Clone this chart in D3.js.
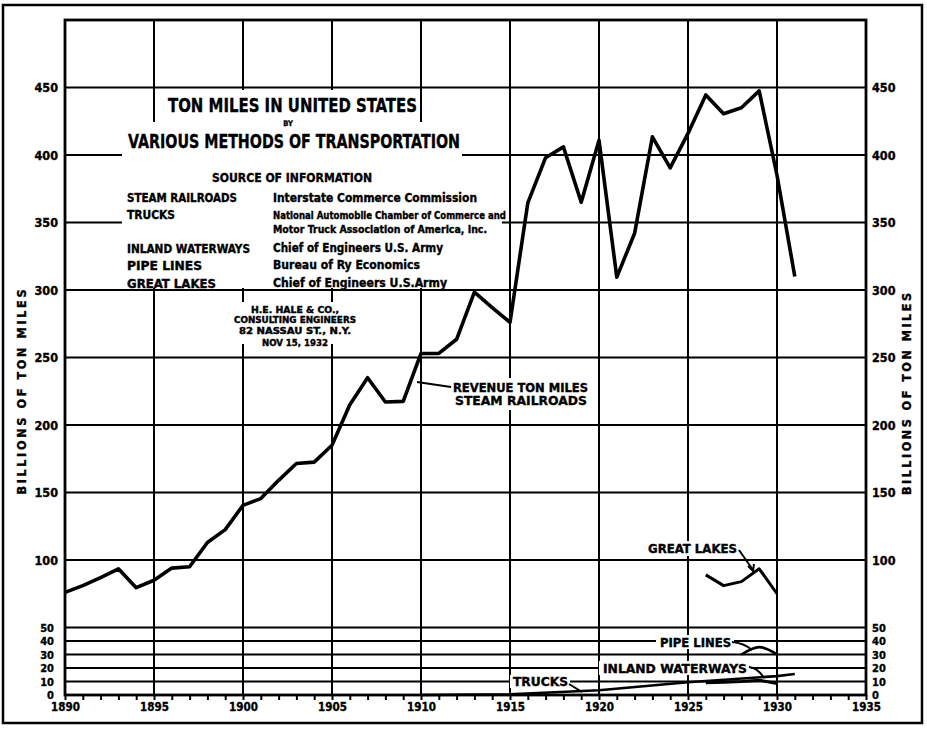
<!DOCTYPE html>
<html><head><meta charset="utf-8">
<script src="https://cdn.jsdelivr.net/npm/d3@7"></script>
<style>
body{margin:0;background:#fff;}
svg{display:block;}
text{font-family:"DejaVu Sans Condensed","Liberation Sans Narrow","DejaVu Sans",sans-serif;font-weight:bold;fill:#000;stroke:#000;stroke-width:0.35px;}
</style></head><body>
<svg id="c" width="927" height="730"></svg>
<script>
// ---------------- DATA ----------------
const railYears = [1890,1891,1892,1893,1894,1895,1896,1897,1898,1899,1900,1901,1902,1903,1904,1905,1906,1907,1908,1909,1910,1911,1912,1913,1914,1915,1916,1917,1918,1919,1920,1921,1922,1923,1924,1925,1926,1927,1928,1929,1930,1931];
const railValues = [76,81,87,93.5,79.5,85,94,95,113,122.5,140.5,145.5,159,171.5,172.5,185,215,235,217,217.5,253,253,263.5,298.5,287,276,364.5,398,406,365,411,309.5,342,413.5,390.5,416,444.5,430.5,435,447.5,385,310];
const lakesYears = [1926,1927,1928,1929,1930];
const lakesValues = [89,81,84,93.5,75];
const pipeYears = [1928,1929,1930];
const pipeValues = [30,35.5,30];
const waterYears = [1926,1927,1928,1929,1930];
const waterValues = [9,9.5,10,11,8.5];
const truckYears = [1910,1915,1920,1925,1930,1931];
const truckValues = [0,0.5,3.5,9.5,14,15.5];
const yTicksLow = [0,10,20,30,40,50];
const yTicksHigh = [100,150,200,250,300,350,400,450];
const xTickYears = [1890,1891,1892,1893,1894,1895,1896,1897,1898,1899,1900,1901,1902,1903,1904,1905,1906,1907,1908,1909,1910,1911,1912,1913,1914,1915,1916,1917,1918,1919,1920,1921,1922,1923,1924,1925,1926,1927,1928,1929,1930,1931,1932,1933,1934,1935];
const xLabelYears = [1890,1895,1900,1905,1910,1915,1920,1925,1930,1935];
const xGridYears = [1895,1900,1905,1910,1915,1920,1925,1930];

const titleLines = ["TON MILES IN UNITED STATES","BY","VARIOUS METHODS OF TRANSPORTATION"];
const sourceHead = "SOURCE OF INFORMATION";
const sourceNames = ["STEAM RAILROADS","TRUCKS","INLAND WATERWAYS","PIPE LINES","GREAT LAKES"];
const sourceOrgs = ["Interstate Commerce Commission","National Automobile Chamber of Commerce and","Motor Truck Association of America, Inc.","Chief of Engineers U.S. Army","Bureau of Ry Economics","Chief of Engineers U.S.Army"];
const stampLines = ["H.E. HALE & CO.,","CONSULTING ENGINEERS","82 NASSAU ST., N.Y.","NOV 15, 1932"];
const axisTitle = "BILLIONS OF TON MILES";

// ---------------- LAYOUT ----------------
const svg = d3.select("#c");
const X0=65, X1=866, Y0=695, Y1=20;
const x = d3.scaleLinear().domain([1890,1935]).range([X0,X1]);
const y = d3.scaleLinear().domain([0,500]).range([Y0,Y1]);

svg.append("rect").attr("width",927).attr("height",730).attr("fill","#fff");
// outer border
svg.append("rect").attr("x",3).attr("y",5).attr("width",919).attr("height",718)
  .attr("fill","none").attr("stroke","#000").attr("stroke-width",2.5);

const grid = svg.append("g").attr("stroke","#000").attr("stroke-width",2);
grid.selectAll(".hg").data(yTicksLow.concat(yTicksHigh)).join("line")
  .attr("x1",X0).attr("x2",X1).attr("y1",d=>y(d)).attr("y2",d=>y(d));
grid.selectAll(".vg").data(xGridYears).join("line")
  .attr("x1",d=>x(d)).attr("x2",d=>x(d)).attr("y1",Y1).attr("y2",Y0);

// white patches behind the title block and stamp
const wb = svg.append("g").attr("fill","#fff");
wb.append("rect").attr("x",160).attr("y",90).attr("width",258).attr("height",32);
wb.append("rect").attr("x",122).attr("y",122).attr("width",340).attr("height",45);
wb.append("rect").attr("x",122).attr("y",165).attr("width",380).attr("height",123);
wb.append("rect").attr("x",230).attr("y",302).attr("width",130).attr("height",42);

// frame
svg.append("rect").attr("x",X0).attr("y",Y1).attr("width",X1-X0).attr("height",Y0-Y1)
  .attr("fill","none").attr("stroke","#000").attr("stroke-width",2.8);

// x axis ticks and labels
const xAxis = d3.axisBottom(x).tickValues(xTickYears).tickSize(5).tickSizeOuter(0)
  .tickFormat(d=> xLabelYears.includes(d) ? String(d) : "");
const gx = svg.append("g").attr("transform",`translate(0,${Y0})`).call(xAxis);
gx.select(".domain").remove();
gx.selectAll("line").attr("stroke","#000").attr("stroke-width",2);
gx.selectAll("text").attr("y",8).attr("font-size",11.5).style("font-family",null);

// y axes
function yAxisPair(ticks, fs, leftX, rightX){
  const gl = svg.append("g").attr("transform",`translate(${leftX},0)`)
    .call(d3.axisLeft(y).tickValues(ticks).tickSize(0).tickFormat(d3.format("d")));
  gl.select(".domain").remove();
  gl.selectAll("text").attr("font-size",fs).attr("x",0);
  const gr = svg.append("g").attr("transform",`translate(${rightX},0)`)
    .call(d3.axisRight(y).tickValues(ticks).tickSize(0).tickFormat(d3.format("d")));
  gr.select(".domain").remove();
  gr.selectAll("text").attr("font-size",fs).attr("x",0);
}
yAxisPair(yTicksHigh, 12.5, 58, 872);
yAxisPair(yTicksLow, 11, 54, 872);

// axis titles
svg.append("text").attr("transform","translate(26,392) rotate(-90)")
  .attr("text-anchor","middle").attr("font-size",12.5).attr("textLength",205)
  .attr("lengthAdjust","spacing").text(axisTitle);
svg.append("text").attr("transform","translate(911,394) rotate(-90)")
  .attr("text-anchor","middle").attr("font-size",12.5).attr("textLength",202)
  .attr("lengthAdjust","spacing").text(axisTitle);

// ---------------- DATA LINES ----------------
const line = d3.line().x(d=>x(d[0])).y(d=>y(d[1]));
const zip = (a,b)=>a.map((v,i)=>[v,b[i]]);
svg.append("path").datum(zip(railYears,railValues)).attr("d",line)
  .attr("fill","none").attr("stroke","#000").attr("stroke-width",3.6).attr("stroke-linejoin","round");
svg.append("path").datum(zip(lakesYears,lakesValues)).attr("d",line)
  .attr("fill","none").attr("stroke","#000").attr("stroke-width",3).attr("stroke-linejoin","round");
svg.append("path").datum(zip(pipeYears,pipeValues)).attr("d",line.curve(d3.curveCardinal))
  .attr("fill","none").attr("stroke","#000").attr("stroke-width",2.6);
line.curve(d3.curveLinear);
svg.append("path").datum(zip(truckYears,truckValues)).attr("d",line)
  .attr("fill","none").attr("stroke","#000").attr("stroke-width",2.6);
svg.append("path").datum(zip(waterYears,waterValues)).attr("d",line)
  .attr("fill","none").attr("stroke","#000").attr("stroke-width",3);

// ---------------- TEXT ----------------
function txt(s,xx,yy,fs,len,anchor){
  const t = svg.append("text").attr("x",xx).attr("y",yy).attr("font-size",fs).text(s);
  if(len) t.attr("textLength",len).attr("lengthAdjust","spacingAndGlyphs");
  if(anchor) t.attr("text-anchor",anchor);
  return t;
}
txt(titleLines[0],168,112,20,249);
txt(titleLines[1],288,126,7.5,null,"middle");
txt(titleLines[2],128,148,20,332);
txt(sourceHead,212,182,13,160);
const nameY=[202,219,253,270,288], nameLen=[110,48,123,75,89];
sourceNames.forEach((s,i)=>txt(s,127,nameY[i],12,nameLen[i]));
const orgY=[202,219,233,252,269,287], orgLen=[204,233,214,170,147,174], orgFs=[12,10,10,12,12,12];
sourceOrgs.forEach((s,i)=>txt(s,273,orgY[i],orgFs[i],orgLen[i]));
const stampY=[313,323,334,346], stampLen=[88,122,112,66];
stampLines.forEach((s,i)=>txt(s,295,stampY[i],8.5,stampLen[i],"middle"));

// callout labels with white backgrounds
const lw = svg.append("g").attr("fill","#fff");
lw.append("rect").attr("x",450).attr("y",378).attr("width",142).attr("height",32);
lw.append("rect").attr("x",644).attr("y",541).attr("width",97).attr("height",15);
lw.append("rect").attr("x",656).attr("y",635).attr("width",78).attr("height",14);
lw.append("rect").attr("x",599).attr("y",661).attr("width",152).attr("height",14);
lw.append("rect").attr("x",510).attr("y",675).attr("width",60).attr("height",13);

txt("REVENUE TON MILES",453,392,12,135);
txt("STEAM RAILROADS",455,405,12,132);
txt("GREAT LAKES",648,553,12,89);
txt("PIPE LINES",660,647,11.5,71);
txt("INLAND WATERWAYS",603,673,12,144);
txt("TRUCKS",513,686,11.5,55);

const lead = svg.append("g").attr("fill","none").attr("stroke","#000").attr("stroke-width",2);
lead.append("path").attr("d","M451,387 L417,382");
lead.append("path").attr("d","M739,550 L753,570");
lead.append("path").attr("d","M748,566 L753,571 L754,564");
lead.append("path").attr("d","M732,642 Q744,643 752,650");
lead.append("path").attr("d","M749,667 Q758,668 764,678");
lead.append("path").attr("d","M569,684 L582,692");
</script>
</body></html>
